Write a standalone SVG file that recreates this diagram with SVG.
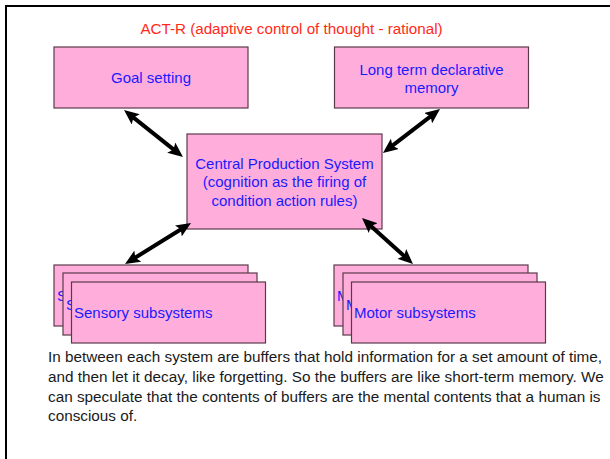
<svg xmlns="http://www.w3.org/2000/svg" width="610" height="459" viewBox="0 0 610 459">
  <style>
    .box { fill: #ffaedb; stroke: #5a3a4a; stroke-width: 1.2; }
    .lbl { font-family: "Liberation Sans", Arial, sans-serif; font-size: 15px; fill: #1a1aff; }
    .mid { text-anchor: middle; }
    .title { font-family: "Liberation Sans", Arial, sans-serif; font-size: 15.2px; fill: #ff2a1a; text-anchor: middle; }
    .body { font-family: "Liberation Sans", Arial, sans-serif; font-size: 15.3px; fill: #1a1a1a; }
    .link { stroke: #000; stroke-width: 4; fill: none; marker-start: url(#head); marker-end: url(#head); }
  </style>
  <defs>
    <marker id="head" viewBox="0 0 15 13" refX="8" refY="6.5" markerWidth="15" markerHeight="13" markerUnits="userSpaceOnUse" orient="auto-start-reverse">
      <path d="M0,0 L15,6.5 L0,13 L3,6.5 Z" fill="#000"/>
    </marker>
  </defs>

  <rect width="610" height="459" fill="#fff"/>
  <!-- slide frame -->
  <rect x="6" y="6" width="620" height="470" fill="none" stroke="#000" stroke-width="2"/>

  <text class="title" x="291.5" y="34">ACT-R (adaptive control of thought - rational)</text>

  <g id="goal">
    <rect class="box" x="54" y="47" width="194" height="61"/>
    <text class="lbl mid" x="151" y="83">Goal setting</text>
  </g>

  <g id="declarative">
    <rect class="box" x="334.5" y="47" width="194" height="61"/>
    <text class="lbl mid" x="431.5" y="75">Long term declarative</text>
    <text class="lbl mid" x="431.5" y="93">memory</text>
  </g>

  <g id="central">
    <rect class="box" x="187" y="134" width="195" height="95"/>
    <text class="lbl mid" x="284.5" y="168.5">Central Production System</text>
    <text class="lbl mid" x="284.5" y="187">(cognition as the firing of</text>
    <text class="lbl mid" x="284.5" y="205.5">condition action rules)</text>
  </g>

  <g id="sensory">
    <rect class="box" x="54" y="265" width="194" height="61"/>
    <text class="lbl" x="57" y="301">Sensory subsystems</text>
    <rect class="box" x="63" y="273" width="194" height="62"/>
    <text class="lbl" x="66" y="309.5">Sensory subsystems</text>
    <rect class="box" x="71.5" y="282" width="194" height="61"/>
    <text class="lbl" x="74" y="318">Sensory subsystems</text>
  </g>

  <g id="motor">
    <rect class="box" x="334" y="265" width="194" height="61"/>
    <text class="lbl" x="337" y="301">Motor subsystems</text>
    <rect class="box" x="343" y="273" width="194" height="62"/>
    <text class="lbl" x="346" y="309.5">Motor subsystems</text>
    <rect class="box" x="351.5" y="282" width="194" height="61"/>
    <text class="lbl" x="354" y="318">Motor subsystems</text>
  </g>

  <g id="connectors">
    <line class="link" x1="129.5" y1="114.4" x2="177.5" y2="152.6"/>
    <line class="link" x1="434.5" y1="113.3" x2="388.5" y2="148.7"/>
    <line class="link" x1="185.1" y1="226.7" x2="131" y2="260.3"/>
    <line class="link" x1="367.2" y1="222.7" x2="407.8" y2="259.3"/>
  </g>

  <g id="notes">
    <text class="body" x="48" y="362">In between each system are buffers that hold information for a set amount of time,</text>
    <text class="body" x="48" y="382">and then let it decay, like forgetting. So the buffers are like short-term memory. We</text>
    <text class="body" x="48" y="401.5">can speculate that the contents of buffers are the mental contents that a human is</text>
    <text class="body" x="48" y="421">conscious of.</text>
  </g>
</svg>
